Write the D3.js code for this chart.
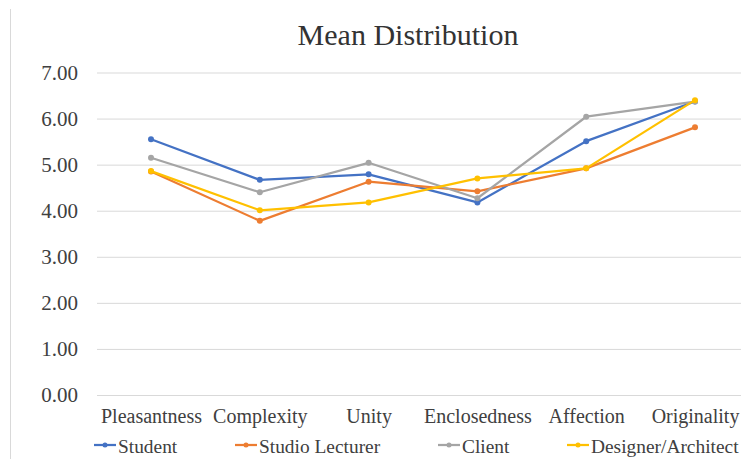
<!DOCTYPE html>
<html>
<head>
<meta charset="utf-8">
<script src="https://cdn.jsdelivr.net/npm/d3@7/dist/d3.min.js"></script>
<style>
  html, body { margin: 0; padding: 0; background: #fff; }
  svg { display: block; font-family: "Liberation Serif", "Times New Roman", serif; }
</style>
</head>
<body>
<svg id="chart" width="741" height="459"></svg>
<script>
const categories = ["Pleasantness", "Complexity", "Unity", "Enclosedness", "Affection", "Originality"];
const student = [5.55, 4.67, 4.79, 4.18, 5.51, 6.37];
const studioLecturer = [4.85, 3.78, 4.63, 4.42, 4.92, 5.81];
const client = [5.15, 4.40, 5.04, 4.27, 6.04, 6.37];
const designerArchitect = [4.86, 4.01, 4.18, 4.70, 4.92, 6.40];
const seriesNames = ["Student", "Studio Lecturer", "Client", "Designer/Architect"];
const seriesColors = ["#4472C4", "#ED7D31", "#A5A5A5", "#FFC000"];
const yTicks = [0, 1, 2, 3, 4, 5, 6, 7];

const series = [student, studioLecturer, client, designerArchitect].map((values, i) => ({
  name: seriesNames[i], color: seriesColors[i], values
}));

const svg = d3.select("#chart");

// outer chart frame edge
svg.append("line")
  .attr("x1", 10.5).attr("x2", 10.5).attr("y1", 9).attr("y2", 459)
  .attr("stroke", "#d9d9d9").attr("stroke-width", 1);

const x = d3.scalePoint().domain(categories).range([96.6, 749.4]).padding(0.5);
const y = d3.scaleLinear().domain([0, 7]).range([395, 72.5]);

// title
svg.append("text")
  .attr("x", 408).attr("y", 45)
  .attr("text-anchor", "middle")
  .attr("font-size", 30).attr("fill", "#333")
  .text("Mean Distribution");

// horizontal gridlines and value labels
const yAxis = d3.axisLeft(y).tickValues(yTicks).tickFormat(d3.format(".2f"))
  .tickSize(-(749 - 97)).tickPadding(19);
const gy = svg.append("g").attr("transform", "translate(97,0)").call(yAxis);
gy.select(".domain").remove();
gy.selectAll(".tick line").attr("stroke", "#d9d9d9").attr("stroke-width", 1);
gy.selectAll(".tick text")
  .attr("font-family", "'Liberation Serif', 'Times New Roman', serif")
  .attr("font-size", 21).attr("fill", "#404040");

// category labels
const xAxis = d3.axisBottom(x).tickSize(0).tickPadding(0);
const gx = svg.append("g").attr("transform", "translate(0,395)").call(xAxis);
gx.select(".domain").remove();
gx.selectAll(".tick text")
  .attr("font-family", "'Liberation Serif', 'Times New Roman', serif")
  .attr("font-size", 20).attr("fill", "#404040")
  .attr("dy", null).attr("y", 28);

// lines with markers
const line = d3.line()
  .x((d, i) => x(categories[i]))
  .y(d => y(d));

const gs = svg.append("g").selectAll("g").data(series).join("g");
gs.append("path")
  .attr("d", d => line(d.values))
  .attr("fill", "none")
  .attr("stroke", d => d.color)
  .attr("stroke-width", 2.25)
  .attr("stroke-linejoin", "round")
  .attr("stroke-linecap", "round");
gs.selectAll("circle")
  .data(d => d.values.map((v, i) => ({ v, i, color: d.color })))
  .join("circle")
  .attr("cx", d => x(categories[d.i]))
  .attr("cy", d => y(d.v))
  .attr("r", 3)
  .attr("fill", d => d.color);

// legend
const legendX = [94, 235, 438, 567];
const legend = svg.append("g").selectAll("g").data(series).join("g")
  .attr("transform", (d, i) => `translate(${legendX[i]},445)`);
legend.append("line")
  .attr("x1", 0).attr("x2", 22).attr("y1", 0).attr("y2", 0)
  .attr("stroke", d => d.color).attr("stroke-width", 2.25);
legend.append("circle")
  .attr("cx", 11).attr("cy", 0).attr("r", 2.5)
  .attr("fill", d => d.color);
legend.append("text")
  .attr("x", 24).attr("y", 8)
  .attr("font-size", 19.4).attr("fill", "#404040")
  .text(d => d.name);
</script>
</body>
</html>
